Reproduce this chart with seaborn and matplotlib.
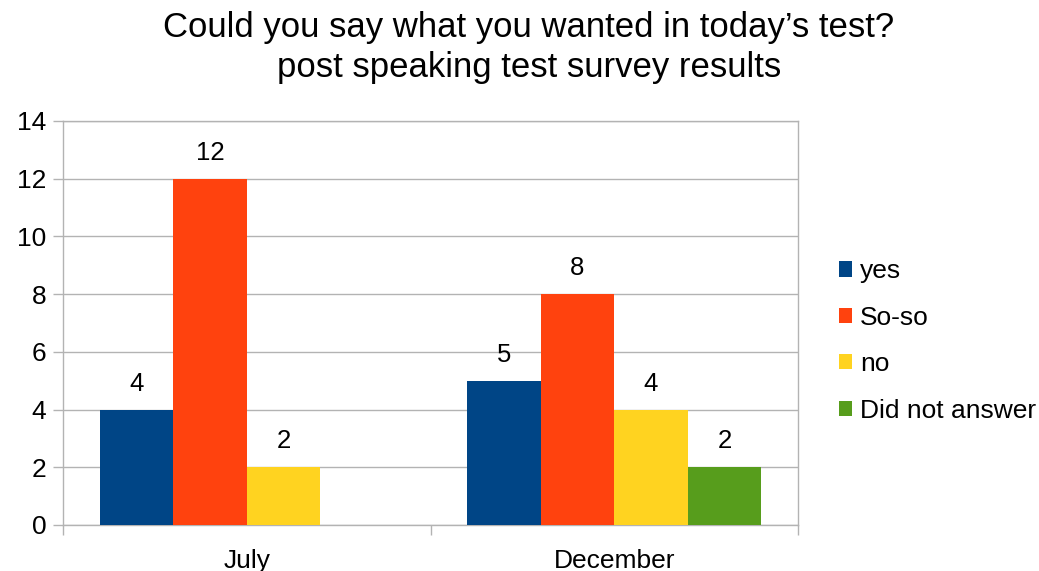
import numpy as np
import pandas as pd
import matplotlib
matplotlib.use("Agg")
import matplotlib.pyplot as plt
from matplotlib.patches import Patch
import seaborn as sns

# Survey answers per test session
months = ["July", "December"]
answers = ["yes", "So-so", "no", "Did not answer"]
july_counts = [4, 12, 2, np.nan]
december_counts = [5, 8, 4, 2]
colors = ["#004586", "#ff420e", "#ffd320", "#579d1c"]
y_ticks = [0, 2, 4, 6, 8, 10, 12, 14]

df = pd.DataFrame({
    "month": [m for m in months for _ in answers],
    "answer": answers * len(months),
    "count": july_counts + december_counts,
})

sns.set_theme(style="white")
plt.rcParams["font.family"] = ["Liberation Sans", "DejaVu Sans"]
plt.rcParams["text.color"] = "black"
plt.rcParams["xtick.color"] = "black"
plt.rcParams["ytick.color"] = "black"

fig = plt.figure(figsize=(10.39, 5.71), dpi=100)
ax = fig.add_axes([63 / 1039, 1 - 525 / 571, (798 - 63) / 1039, (525 - 121) / 571])

sns.barplot(data=df, x="month", y="count", hue="answer", order=months,
            hue_order=answers, palette=colors, width=0.8, saturation=1,
            linewidth=0, ax=ax, legend=False, zorder=3)

for container in ax.containers:
    labels = ["" if np.isnan(v) else f"{v:g}" for v in container.datavalues]
    ax.bar_label(container, labels=labels, padding=10, fontsize=18.5, color="black")

grid_c = "#b3b3b3"
ax.set_ylim(0, 14)
ax.set_yticks(y_ticks)
ax.set_xlim(-0.5, 1.5)
ax.yaxis.grid(True, color=grid_c, linewidth=1, zorder=0)
ax.set_axisbelow(True)
for s in ax.spines.values():
    s.set_visible(True)
    s.set_color(grid_c)
    s.set_linewidth(1)

ax.tick_params(axis="y", which="major", length=7, width=1, color=grid_c,
               labelcolor="black", labelsize=19, pad=5, left=True)
ax.tick_params(axis="x", which="major", length=0, labelsize=19, pad=17,
               labelcolor="black")
ax.set_xticks([-0.5, 0.5, 1.5], minor=True)
ax.tick_params(axis="x", which="minor", length=7, width=1, color=grid_c, bottom=True)
ax.set_xlabel("")
ax.set_ylabel("")

fig.text(529 / 1039, 1 - 28 / 571, "Could you say what you wanted in today\u2019s test?",
         ha="center", va="center", fontsize=25, color="black")
fig.text(529 / 1039, 1 - 68 / 571, "post speaking test survey results",
         ha="center", va="center", fontsize=25, color="black")

handles = [Patch(facecolor=c, edgecolor="none") for c in colors]
fig.legend(handles, answers, loc="center left", bbox_to_anchor=(839 / 1039, 1 - 341 / 571),
           frameon=False, fontsize=19, handlelength=0.5, handleheight=0.5,
           handletextpad=0.3, labelspacing=0.85, borderaxespad=0, borderpad=0)

fig.savefig("out.png", dpi=100)
